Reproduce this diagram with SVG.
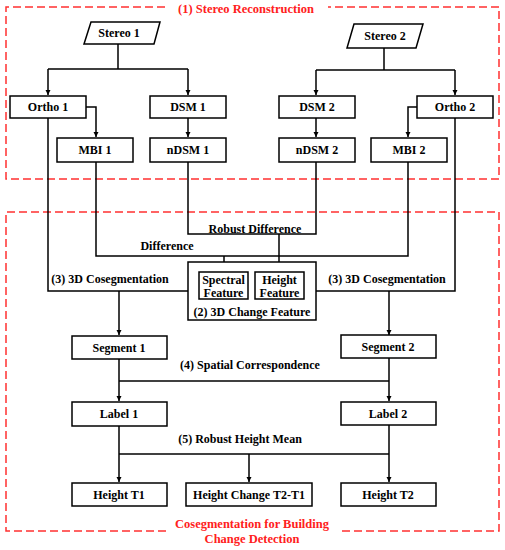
<svg xmlns="http://www.w3.org/2000/svg" width="505" height="550" viewBox="0 0 505 550">
<style>
.box{fill:#fff;stroke:#000;stroke-width:1.5}
.t{font-family:"Liberation Serif","Times New Roman",serif;font-weight:bold;font-size:12px;fill:#000;text-anchor:middle}
.r{font-family:"Liberation Serif","Times New Roman",serif;font-weight:bold;font-size:12.5px;fill:#ff2020;text-anchor:middle}
.ln{fill:none;stroke:#000;stroke-width:1.5}
.dash{fill:none;stroke:#ff3030;stroke-width:1.5;stroke-dasharray:8,4}
</style>
<defs>
<marker id="ah" markerWidth="6" markerHeight="6" refX="5" refY="3" orient="auto" markerUnits="userSpaceOnUse">
<path d="M0,0.5 L5,3 L0,5.5 Z" fill="#000"/>
</marker>
</defs>
<rect width="505" height="550" fill="#fff"/>
<g id="frames">
<path class="dash" d="M165,7 L6,7 L6,179 L499,179 L499,7 L328,7"/>
<path class="dash" d="M166,531 L6,531 L6,212 L499,212 L499,531 L340,531"/>
<text class="r" x="246" y="13">(1) Stereo Reconstruction</text>
<text class="r" x="252" y="528">Cosegmentation for Building</text>
<text class="r" x="252" y="543">Change Detection</text>
</g>
<g id="connectors">
<path class="ln" d="M118,44 L118,69 M48,69 L188,69"/>
<path class="ln" d="M48,69 L48,95" marker-end="url(#ah)"/>
<path class="ln" d="M188,69 L188,95" marker-end="url(#ah)"/>
<path class="ln" d="M384,48 L384,70 M316,70 L455,70"/>
<path class="ln" d="M316,70 L316,95" marker-end="url(#ah)"/>
<path class="ln" d="M455,70 L455,95" marker-end="url(#ah)"/>
<path class="ln" d="M86,107 L96,107 L96,137" marker-end="url(#ah)"/>
<path class="ln" d="M417,107 L408,107 L408,137" marker-end="url(#ah)"/>
<path class="ln" d="M188,118 L188,137" marker-end="url(#ah)"/>
<path class="ln" d="M316,118 L316,137" marker-end="url(#ah)"/>
<path class="ln" d="M96,162 L96,256 L408,256 L408,162"/>
<path class="ln" d="M188,162 L188,234 L316,234 L316,162"/>
<path class="ln" d="M224,256 L224,271" marker-end="url(#ah)"/>
<path class="ln" d="M279,234 L279,271" marker-end="url(#ah)"/>
<path class="ln" d="M48,118 L48,291 L188,291"/>
<path class="ln" d="M455,118 L455,291 L316,291"/>
<path class="ln" d="M119,291 L119,335" marker-end="url(#ah)"/>
<path class="ln" d="M389,291 L389,335" marker-end="url(#ah)"/>
<path class="ln" d="M119,359 L119,401" marker-end="url(#ah)"/>
<path class="ln" d="M389,358 L389,401" marker-end="url(#ah)"/>
<path class="ln" d="M119,381 L389,381"/>
<path class="ln" d="M119,426 L119,482" marker-end="url(#ah)"/>
<path class="ln" d="M389,425 L389,482" marker-end="url(#ah)"/>
<path class="ln" d="M119,454 L389,454"/>
<path class="ln" d="M249,454 L249,482" marker-end="url(#ah)"/>
<text class="t" x="255" y="233">Robust Difference</text>
<text class="t" x="167" y="250">Difference</text>
<text class="t" x="110" y="283">(3) 3D Cosegmentation</text>
<text class="t" x="387" y="283">(3) 3D Cosegmentation</text>
<text class="t" x="250" y="369">(4) Spatial Correspondence</text>
<text class="t" x="240" y="443">(5) Robust Height Mean</text>
</g>
<g id="stereo1"><path class="box" d="M91,22 L160,22 L154,44 L84,44 Z"/><text class="t" x="119" y="37">Stereo 1</text></g>
<g id="stereo2"><path class="box" d="M354,24 L423,24 L416,48 L347,48 Z"/><text class="t" x="385" y="40">Stereo 2</text></g>
<g id="ortho1"><rect class="box" x="10" y="96" width="76" height="22"/><text class="t" x="48" y="111">Ortho 1</text></g>
<g id="dsm1"><rect class="box" x="150" y="96" width="76" height="22"/><text class="t" x="188" y="111">DSM 1</text></g>
<g id="dsm2"><rect class="box" x="279" y="96" width="76" height="22"/><text class="t" x="317" y="111">DSM 2</text></g>
<g id="ortho2"><rect class="box" x="417" y="96" width="76" height="22"/><text class="t" x="455" y="111">Ortho 2</text></g>
<g id="mbi1"><rect class="box" x="57" y="138" width="76" height="24"/><text class="t" x="95" y="154">MBI 1</text></g>
<g id="ndsm1"><rect class="box" x="150" y="138" width="76" height="24"/><text class="t" x="188" y="154">nDSM 1</text></g>
<g id="ndsm2"><rect class="box" x="279" y="138" width="76" height="24"/><text class="t" x="317" y="154">nDSM 2</text></g>
<g id="mbi2"><rect class="box" x="371" y="138" width="76" height="24"/><text class="t" x="409" y="154">MBI 2</text></g>
<g id="changefeature">
<rect class="box" x="188" y="262" width="128" height="58"/>
<rect class="box" x="199" y="272" width="49" height="27"/>
<rect class="box" x="255" y="272" width="49" height="27"/>
<text class="t" x="223.5" y="284">Spectral</text><text class="t" x="223.5" y="297">Feature</text>
<text class="t" x="279.5" y="284">Height</text><text class="t" x="279.5" y="297">Feature</text>
<text class="t" x="252" y="316">(2) 3D Change Feature</text>
</g>
<g id="segment1"><rect class="box" x="72" y="336" width="95" height="23"/><text class="t" x="119" y="352">Segment 1</text></g>
<g id="segment2"><rect class="box" x="341" y="335" width="95" height="23"/><text class="t" x="388" y="351">Segment 2</text></g>
<g id="label1"><rect class="box" x="72" y="402" width="95" height="24"/><text class="t" x="119" y="418">Label 1</text></g>
<g id="label2"><rect class="box" x="341" y="402" width="95" height="23"/><text class="t" x="388" y="418">Label 2</text></g>
<g id="heightt1"><rect class="box" x="72" y="483" width="95" height="23"/><text class="t" x="119" y="499">Height T1</text></g>
<g id="heightchange"><rect class="box" x="186" y="483" width="126" height="23"/><text class="t" x="249" y="499">Height Change T2-T1</text></g>
<g id="heightt2"><rect class="box" x="341" y="483" width="95" height="23"/><text class="t" x="388" y="499">Height T2</text></g>
</svg>
